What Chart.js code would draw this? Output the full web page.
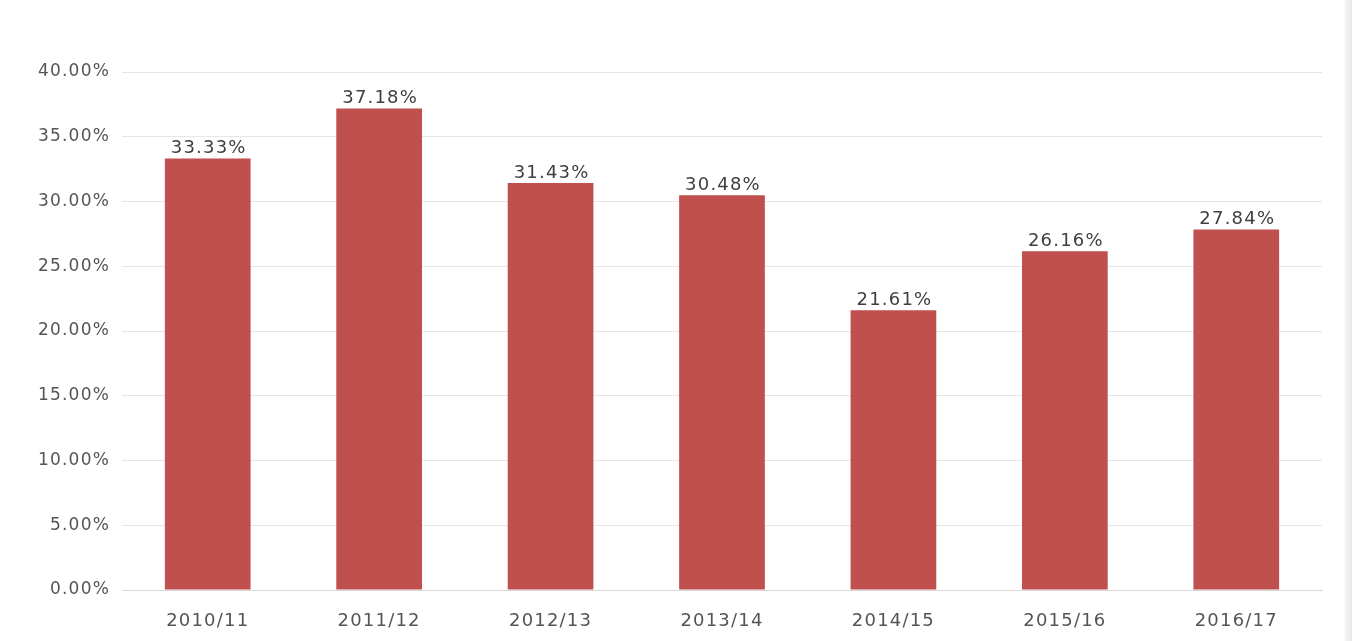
<!DOCTYPE html>
<html>
<head>
<meta charset="utf-8">
<script src="https://cdn.jsdelivr.net/npm/chart.js@4"></script>
<style>
  html, body { margin: 0; padding: 0; background: #ffffff; }
  #wrap { width: 1352px; height: 641px; position: relative; }
  #edge { position: absolute; top: 0; right: 0; width: 7px; height: 641px;
          background: linear-gradient(to right, #f4f4f4, #e9e9e9); }
</style>
</head>
<body>
<div id="wrap"><canvas id="chart"></canvas><div id="edge"></div></div>
<script>
// Share of students per academic year
const years = ['2010/11', '2011/12', '2012/13', '2013/14', '2014/15', '2015/16', '2016/17'];
const shares = [33.33, 37.18, 31.43, 30.48, 21.61, 26.16, 27.84];
const yTicks = [0, 5, 10, 15, 20, 25, 30, 35, 40];

const barColor = '#c0504d';
const textFont = '"DejaVu Sans", sans-serif';

// Slightly wider letter spacing for every text on the canvas
const spacing = {
  id: 'spacing',
  beforeDraw(chart) { chart.ctx.letterSpacing = '1.2px'; }
};

// Writes each bar's value just above it
const valueLabels = {
  id: 'valueLabels',
  afterDatasetsDraw(chart) {
    const { ctx } = chart;
    const meta = chart.getDatasetMeta(0);
    ctx.save();
    ctx.letterSpacing = '1.2px';
    ctx.font = '18px ' + textFont;
    ctx.fillStyle = '#3f3f3f';
    ctx.textAlign = 'center';
    ctx.textBaseline = 'bottom';
    meta.data.forEach((bar, i) => {
      ctx.fillText(shares[i].toFixed(2) + '%', bar.x + 1, bar.y - 1);
    });
    ctx.restore();
  }
};

new Chart(document.getElementById('chart'), {
  type: 'bar',
  data: {
    labels: years,
    datasets: [{
      data: shares,
      backgroundColor: barColor,
      borderWidth: 0,
      categoryPercentage: 1,
      barPercentage: 0.5
    }]
  },
  options: {
    responsive: true,
    maintainAspectRatio: false,
    animation: false,
    layout: { padding: { top: 72, right: 30, bottom: 0, left: 0 } },
    plugins: { legend: { display: false }, tooltip: { enabled: false } },
    scales: {
      x: {
        grid: { display: false },
        border: { display: true, color: '#d9d9d9', width: 1 },
        ticks: { color: '#555555', font: { family: textFont, size: 18 }, padding: 13 },
        afterFit(scale) { scale.height = 51; }
      },
      y: {
        min: 0,
        max: 40,
        afterBuildTicks(scale) { scale.ticks = yTicks.map(v => ({ value: v })); },
        grid: { color: '#e6e6e6', drawTicks: false },
        border: { display: false },
        ticks: {
          color: '#555555',
          padding: 12,
          font: { family: textFont, size: 17 },
          callback: v => Number(v).toFixed(2) + '%'
        },
        afterFit(scale) { scale.width = 122; }
      }
    }
  },
  plugins: [spacing, valueLabels]
});
</script>
</body>
</html>
